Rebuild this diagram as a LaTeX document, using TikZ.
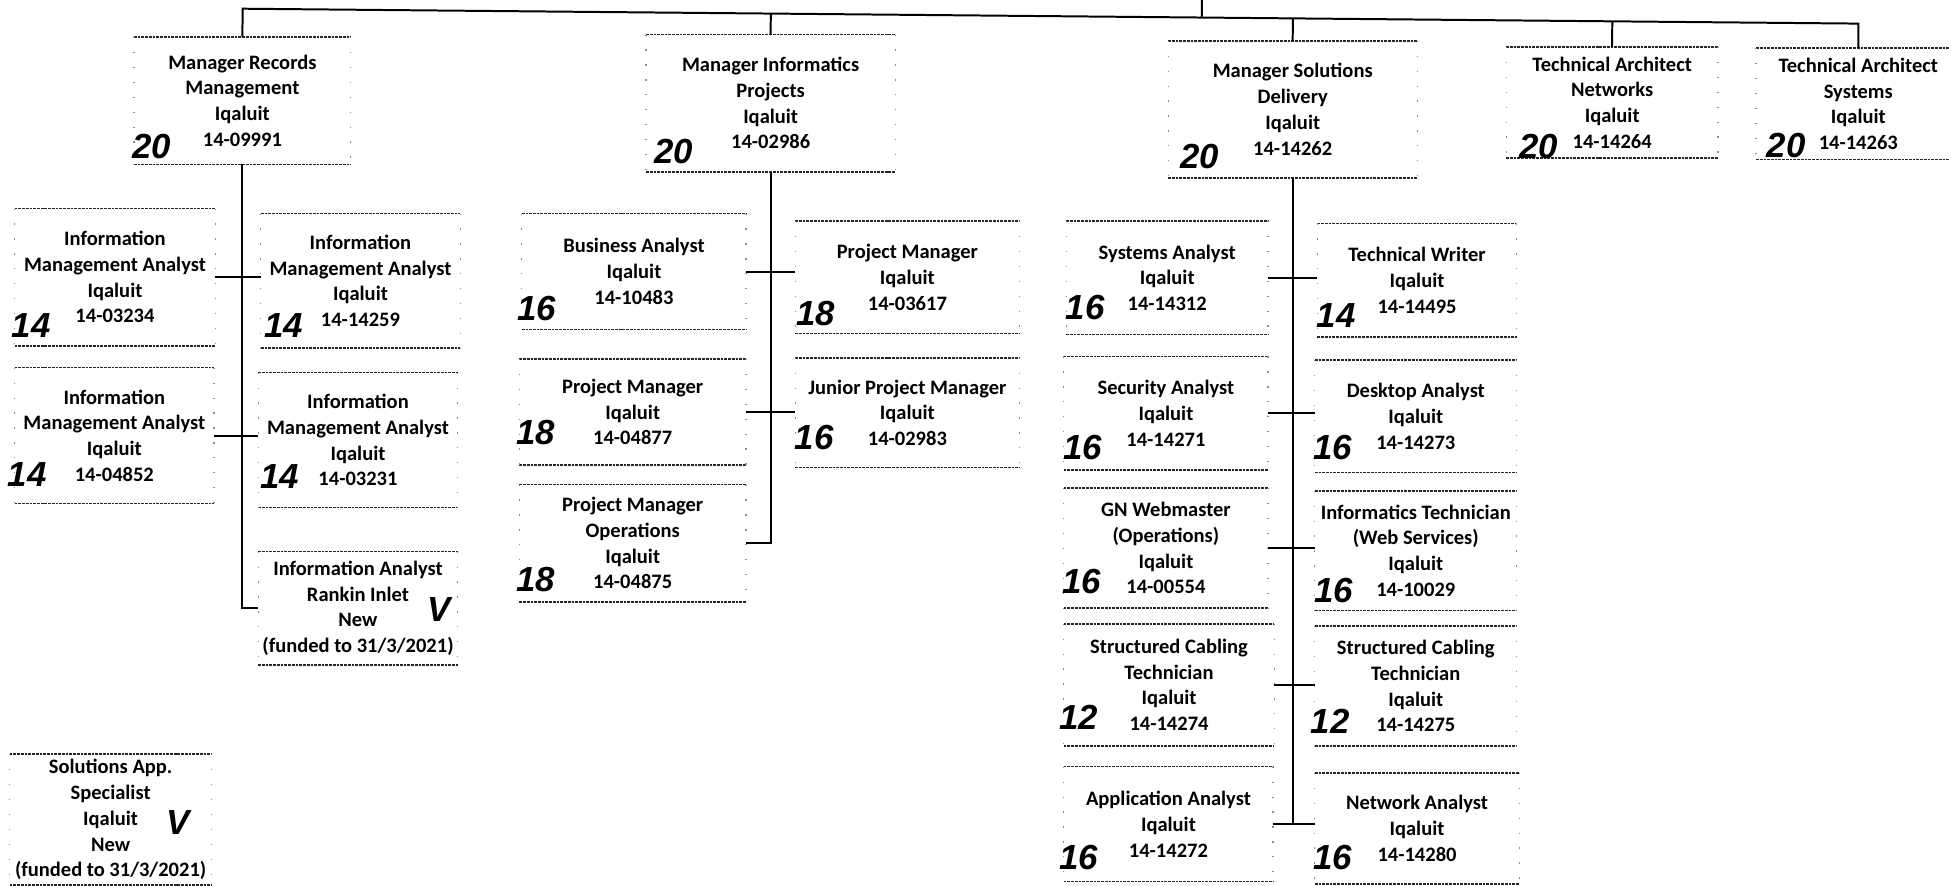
\documentclass[tikz,border=0pt]{standalone}
\usepackage{fontspec}
\setmainfont{Carlito}
\newfontfamily\handfont{Liberation Sans}
\usetikzlibrary{calc}
\tikzset{
  pbox/.style={inner sep=0pt, align=center, font=\bfseries\fontsize{16.5}{20.7}\selectfont},
  edgeln/.style={line width=1.3pt, black!85, dash pattern=on 2.2pt off 0.8pt},
  sideln/.style={line width=1pt, black!45, dash pattern=on 1pt off 11pt},
  conn/.style={line width=1.6pt, black},
  hand/.style={inner sep=0pt, font=\handfont\bfseries\itshape\fontsize{28}{28}\selectfont},
}
\newcommand\posn[6]{%
  \pgfmathsetmacro\pw{#4-#2}\pgfmathsetmacro\ph{#5-#3}%
  \pgfmathsetmacro\pcx{(#2+#4)/2}\pgfmathsetmacro\pcy{(#3+#5)/2}%
  \node[pbox, minimum width=\pw pt, minimum height=\ph pt] (#1) at (\pcx,\pcy) {#6};
  \draw[edgeln] (#1.north west) -- (#1.north east) (#1.south west) -- (#1.south east);
  \draw[sideln] (#1.north west) -- (#1.south west) (#1.north east) -- (#1.south east);
}
\begin{document}
\begin{tikzpicture}[x=1pt,y=-1pt]
\useasboundingbox (0,0) rectangle (1568,712);
\fill[white] (0,0) rectangle (1568,712);

% top level
\posn{mrm}{108}{30}{282}{132}{Manager Records\\Management\\Iqaluit\\14-09991}
\posn{mip}{520}{28}{720}{138}{Manager Informatics\\Projects\\Iqaluit\\14-02986}
\posn{msd}{940}{33}{1140}{143}{Manager Solutions\\Delivery\\Iqaluit\\14-14262}
\posn{tanet}{1212}{38}{1382}{127}{Technical Architect\\Networks\\Iqaluit\\14-14264}
\posn{tasys}{1413}{39}{1577}{128}{Technical Architect\\Systems\\Iqaluit\\14-14263}

% records branch
\posn{imaA}{12}{168}{173}{278}{Information\\Management Analyst\\Iqaluit\\14-03234}
\posn{imaB}{210}{172}{370}{280}{Information\\Management Analyst\\Iqaluit\\14-14259}
\posn{imaC}{12}{296}{172}{405}{Information\\Management Analyst\\Iqaluit\\14-04852}
\posn{imaD}{208}{300}{368}{408}{Information\\Management Analyst\\Iqaluit\\14-03231}
\posn{ia}{208}{444}{368}{535}{Information Analyst\\Rankin Inlet\\New\\(funded to 31/3/2021)}

% informatics branch
\posn{ba}{420}{172}{600}{265}{Business Analyst\\Iqaluit\\14-10483}
\posn{pmA}{640}{178}{820}{268}{Project Manager\\Iqaluit\\14-03617}
\posn{pmB}{418}{289}{600}{374}{Project Manager\\Iqaluit\\14-04877}
\posn{jpm}{640}{288}{820}{376}{Junior Project Manager\\Iqaluit\\14-02983}
\posn{pmo}{418}{390}{600}{484}{Project Manager\\Operations\\Iqaluit\\14-04875}

% solutions branch
\posn{sa}{858}{178}{1020}{269}{Systems Analyst\\Iqaluit\\14-14312}
\posn{tw}{1060}{180}{1220}{271}{Technical Writer\\Iqaluit\\14-14495}
\posn{sec}{856}{287}{1020}{378}{Security Analyst\\Iqaluit\\14-14271}
\posn{da}{1058}{290}{1220}{380}{Desktop Analyst\\Iqaluit\\14-14273}
\posn{gn}{856}{393}{1020}{489}{GN Webmaster\\(Operations)\\Iqaluit\\14-00554}
\posn{it}{1058}{395}{1220}{491}{Informatics Technician\\(Web Services)\\Iqaluit\\14-10029}
\posn{scA}{856}{502}{1025}{600}{Structured Cabling\\Technician\\Iqaluit\\14-14274}
\posn{scB}{1058}{504}{1220}{600}{Structured Cabling\\Technician\\Iqaluit\\14-14275}
\posn{aa}{856}{617}{1024}{709}{Application Analyst\\Iqaluit\\14-14272}
\posn{na}{1058}{622}{1222}{711}{Network Analyst\\Iqaluit\\14-14280}

% unattached
\posn{sas}{8}{607}{170}{712}{Solutions App.\\Specialist\\Iqaluit\\New\\(funded to 31/3/2021)}

% top bus
\coordinate (root) at (967,0);
\coordinate (busL) at (195,7);
\coordinate (busR) at (1497,19);
\draw[conn] (root) -- ($(busL)!(root)!(busR)$);
\draw[conn] (mrm.north) -- ($(busL)!(mrm.north)!(busR)$) -- ($(busL)!(tasys.north)!(busR)$) -- (tasys.north);
\foreach \n in {mip,msd,tanet}
  \draw[conn] (\n.north) -- ($(busL)!(\n.north)!(busR)$);

% records connectors
\draw[conn] (mrm.south) -- (mrm.south |- ia.west) -- (ia.west);
\draw[conn] (imaA.east) -- (imaA.east -| imaB.west);
\draw[conn] (imaC.east) -- (imaC.east -| imaD.west);

% informatics connectors
\draw[conn] (mip.south) -- (mip.south |- pmo.east) -- (pmo.east);
\draw[conn] (ba.east) -- (ba.east -| pmA.west);
\draw[conn] (pmB.east) -- (pmB.east -| jpm.west);

% solutions connectors
\draw[conn] (msd.south) -- (msd.south |- aa.east);
\draw[conn] (sa.east) -- (sa.east -| tw.west);
\draw[conn] (sec.east) -- (sec.east -| da.west);
\draw[conn] (gn.east) -- (gn.east -| it.west);
\draw[conn] (scA.east) -- (scA.east -| scB.west);
\draw[conn] (aa.east) -- (aa.east -| na.west);

% handwritten grades
\node[hand] (gmrm) at (122,118) {20};
\node[hand] (gmip) at (542,122) {20};
\node[hand] (gmsd) at (965,126) {20};
\node[hand] (gtanet) at (1238,118) {20};
\node[hand] (gtasys) at (1437,117) {20};
\node[hand] (gimaA) at (25,262) {14};
\node[hand] (gimaB) at (228,262) {14};
\node[hand] (gimaC) at (22,382) {14};
\node[hand] (gimaD) at (225,383) {14};
\node[hand] (gia) at (353,490) {V};
\node[hand] (gba) at (432,248) {16};
\node[hand] (gpmA) at (656,252) {18};
\node[hand] (gpmB) at (431,348) {18};
\node[hand] (gjpm) at (655,352) {16};
\node[hand] (gpmo) at (431,466) {18};
\node[hand] (gsa) at (873,247) {16};
\node[hand] (gtw) at (1075,254) {14};
\node[hand] (gsec) at (871,360) {16};
\node[hand] (gda) at (1072,360) {16};
\node[hand] (ggn) at (870,468) {16};
\node[hand] (git) at (1073,475) {16};
\node[hand] (gscA) at (868,577) {12};
\node[hand] (gscB) at (1070,580) {12};
\node[hand] (gaa) at (868,690) {16};
\node[hand] (gna) at (1072,690) {16};
\node[hand] (gsas) at (143,662) {V};
\end{tikzpicture}
\end{document}
